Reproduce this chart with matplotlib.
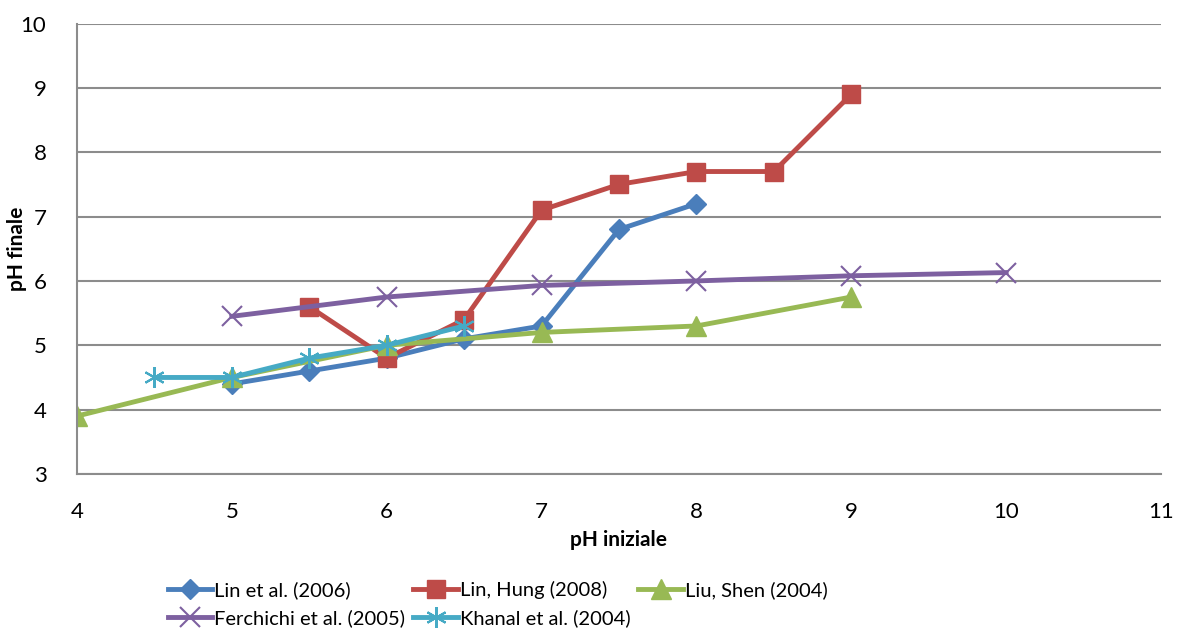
import matplotlib
matplotlib.use('Agg')
import matplotlib.pyplot as plt

plt.rcParams['font.family'] = ['Lato', 'DejaVu Sans']

# pH iniziale / pH finale for each study
lin06_x = [5, 5.5, 6, 6.5, 7, 7.5, 8]
lin06_y = [4.4, 4.6, 4.8, 5.1, 5.3, 6.8, 7.2]

linhung_x = [5.5, 6, 6.5, 7, 7.5, 8, 8.5, 9]
linhung_y = [5.6, 4.8, 5.4, 7.1, 7.5, 7.7, 7.7, 8.9]

liu_x = [4, 5, 6, 7, 8, 9]
liu_y = [3.9, 4.5, 5.0, 5.2, 5.3, 5.75]

ferch_x = [5, 6, 7, 8, 9, 10]
ferch_y = [5.45, 5.75, 5.93, 6.0, 6.08, 6.13]

khanal_x = [4.5, 5, 5.5, 6, 6.5]
khanal_y = [4.5, 4.5, 4.8, 5.0, 5.3]

labels = ['Lin et al. (2006)', 'Lin, Hung (2008)', 'Liu, Shen (2004)',
          'Ferchichi et al. (2005)', 'Khanal et al. (2004)']

fig = plt.figure(figsize=(11.78, 6.28), dpi=100)
ax = fig.add_axes([77/1178, 1 - 474/628, (1161-77)/1178, (474-23.5)/628])

lw = 3.5
l1, = ax.plot(lin06_x, lin06_y, color='#4a7ebb', lw=lw, marker='D', ms=10, label=labels[0])
l2, = ax.plot(linhung_x, linhung_y, color='#be4b48', lw=lw, marker='s', ms=13, label=labels[1])
l3, = ax.plot(liu_x, liu_y, color='#98b954', lw=lw, marker='^', ms=14, label=labels[2])
l4, = ax.plot(ferch_x, ferch_y, color='#7d60a0', lw=lw, marker='x', ms=14, mew=1.5, label=labels[3])
l5, = ax.plot(khanal_x, khanal_y, color='#46aac5', lw=lw, marker=(6, 2, 0), ms=15, mew=1.5, label=labels[4])

ax.set_xlim(4, 11)
ax.set_ylim(3, 10)
ax.set_xticks(range(4, 12))
ax.set_yticks(range(3, 11))
ax.tick_params(length=0, labelsize=16, pad=20)
ax.tick_params(axis='y', pad=22)
ax.grid(axis='y', color='#8c8c8c', lw=1.5)
ax.set_axisbelow(True)
for s in ['top', 'right']:
    ax.spines[s].set_visible(False)
for s in ['left', 'bottom']:
    ax.spines[s].set_color('#8c8c8c')
    ax.spines[s].set_linewidth(1.5)

ax.set_xlabel('pH iniziale', fontsize=15, fontweight='bold', labelpad=6)
ax.set_ylabel('pH finale', fontsize=15, fontweight='bold')
ax.yaxis.set_label_coords(-50/1084, 0.5)

# legend fills by column, so order handles to read row by row
fig.legend(handles=[l1, l4, l2, l5, l3], ncol=3, loc='upper left',
           bbox_to_anchor=(152/1178, 1 - 565/628), frameon=False, fontsize=14.5,
           handlelength=2.2, handletextpad=0.1, columnspacing=0.4,
           labelspacing=0.5, borderpad=0.3)

fig.savefig('out.png', dpi=100)
